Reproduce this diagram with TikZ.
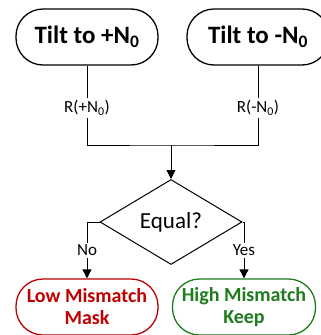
\documentclass[tikz,border=0pt]{standalone}
\usepackage{fontspec}
\setmainfont{Carlito}
\usepackage{tikz}
\usetikzlibrary{positioning, shapes.geometric, arrows.meta}
\definecolor{maskRed}{HTML}{C00000}
\definecolor{keepGreen}{HTML}{1E7B1E}

\tikzset{
  pill/.style={draw, line width=1.3pt, rounded corners=27pt,
    minimum width=142pt, minimum height=56pt, align=center,
    font=\fontsize{20}{22}\selectfont\bfseries},
  lbl/.style={fill=white, inner sep=2pt, font=\fontsize{17}{20}\selectfont},
  link/.style={line width=0.8pt},
  arr/.style={link, -{Triangle[length=9pt, width=9pt]}}
}

\begin{document}
\begin{tikzpicture}[x=1pt, y=1pt]
\useasboundingbox (0,0) rectangle (321,-335);

\node[pill, font=\fontsize{25}{28}\selectfont\bfseries] (plus) at (87,-37) {Tilt to +N\textsubscript{0}};
\node[pill, font=\fontsize{25}{28}\selectfont\bfseries] (minus) at (258,-37) {Tilt to -N\textsubscript{0}};

\node[lbl] (rplus) at (87,-108) {R(+N\textsubscript{0})};
\node[lbl] (rminus) at (258,-108) {R(-N\textsubscript{0})};

\coordinate (join) at (171,-145);

\node[
  draw,
  diamond,
  line width=1pt,
  minimum width=142pt,
  minimum height=85pt,
  inner sep=0pt,
  font=\fontsize{23}{26}\selectfont
] (equal) at (171,-222) {Equal?};

\node[pill, draw=maskRed, text=maskRed] (low) at (87,-307)
{Low Mismatch\\Mask};
\node[pill, draw=keepGreen, text=keepGreen, minimum width=143pt] (high) at (244,-307)
{High Mismatch\\Keep};

\draw[link] (plus) -- (rplus);
\draw[link] (minus) -- (rminus);
\draw[link] (rplus) |- (join) -| (rminus);
\draw[arr] (join) -- (equal.north);

\draw[arr] (equal.west) -| node[lbl, pos=0.75]{No} (low.north);
\draw[arr] (equal.east) -| node[lbl, pos=0.75]{Yes} (high.north);

\end{tikzpicture}
\end{document}
